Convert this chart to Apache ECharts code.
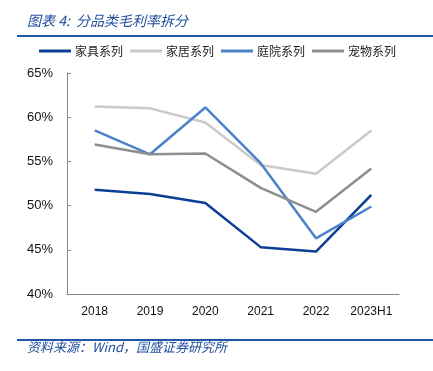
<!DOCTYPE html>
<html>
<head>
<meta charset="utf-8">
<script src="https://cdn.jsdelivr.net/npm/echarts@6/dist/echarts.min.js"></script>
<style>html,body{margin:0;padding:0;background:#fff;}#c{width:433px;height:371px;}</style>
</head>
<body>
<div id="c"></div>
<script>
var categories = ['2018', '2019', '2020', '2021', '2022', '2023H1'];
var furniture = [51.8, 51.3, 50.3, 45.3, 44.8, 51.2];
var home = [61.2, 61.0, 59.4, 54.6, 53.6, 58.5];
var garden = [58.5, 55.8, 61.1, 54.8, 46.3, 49.9];
var pet = [56.9, 55.8, 55.9, 52.0, 49.3, 54.2];
var yTicks = [40, 45, 50, 55, 60, 65];

var chart = echarts.init(document.getElementById('c'));
var cjk = '"Noto Sans CJK SC", sans-serif';
function mk(name, data, color) {
  return { name: name, type: 'line', data: data, symbol: 'none', smooth: false,
    lineStyle: { color: color, width: 2.5 }, itemStyle: { color: color } };
}
chart.setOption({
  animation: false,
  graphic: [
    { type: 'text', left: 27, top: 14, style: { text: '图表 4:  分品类毛利率拆分', fill: '#1f4e9c', font: 'italic 14px ' + cjk } },
    { type: 'rect', shape: { x: 17, y: 35, width: 416, height: 2 }, style: { fill: '#1f56a8' } },
    { type: 'rect', shape: { x: 17, y: 339, width: 416, height: 2 }, style: { fill: '#1f56a8' } },
    { type: 'text', left: 27, top: 341, style: { text: '资料来源：Wind，国盛证券研究所', fill: '#1f4e9c', font: 'italic 13px ' + cjk } }
  ],
  legend: {
    left: 39, top: 45, padding: 0, icon: 'rect', itemWidth: 32, itemHeight: 3, itemGap: 7,
    textStyle: { fontFamily: cjk, fontSize: 12, color: '#222', padding: [0, 0, 0, -1] },
    data: ['家具系列', '家居系列', '庭院系列', '宠物系列']
  },
  grid: { left: 67, right: 34, top: 73, bottom: 77 },
  xAxis: {
    type: 'category', data: categories, boundaryGap: true,
    axisLine: { lineStyle: { color: '#888', width: 1 } },
    axisTick: { inside: true, length: 4, lineStyle: { color: '#888' } },
    axisLabel: { fontFamily: 'Liberation Sans', fontSize: 12, color: '#111', margin: 12 }
  },
  yAxis: {
    type: 'value', min: 40, max: 65, interval: 5,
    axisLine: { show: true, lineStyle: { color: '#888', width: 1 } },
    axisTick: { show: true, inside: true, length: 4, lineStyle: { color: '#888' } },
    splitLine: { show: false },
    axisLabel: { fontFamily: 'Liberation Sans', fontSize: 13, color: '#111', margin: 14,
      formatter: function (v) { return yTicks.indexOf(v) >= 0 ? v + '%' : ''; } }
  },
  series: [
    mk('家具系列', furniture, '#0c3e96'),
    mk('家居系列', home, '#cacaca'),
    mk('庭院系列', garden, '#4d82c8'),
    mk('宠物系列', pet, '#8e8e8e')
  ]
});
</script>
</body>
</html>
